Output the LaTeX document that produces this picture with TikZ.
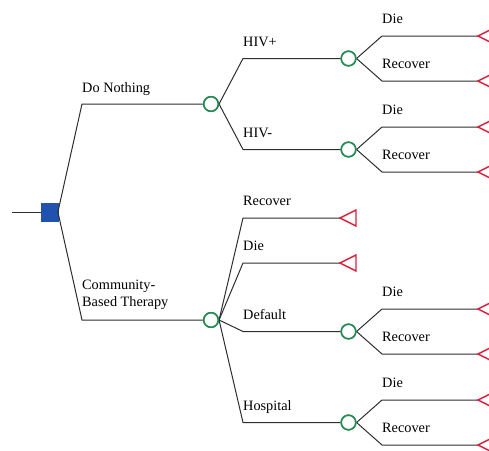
\documentclass[tikz,border=0pt]{standalone}
\usepackage{fontspec}
\setmainfont{Liberation Serif}
\definecolor{decblue}{HTML}{2152AE}
\definecolor{chgreen}{HTML}{268A52}
\definecolor{termred}{HTML}{D8213E}
\definecolor{lncol}{HTML}{2E2E2E}
\begin{document}
\begin{tikzpicture}[x=1pt,y=-1pt,
  ln/.style={draw=lncol,line width=1pt},
  decision/.style={rectangle,fill=decblue,draw=decblue,line width=0.3pt,minimum width=16.5pt,minimum height=17.5pt,inner sep=0pt},
  chance/.style={circle,draw=chgreen,fill=white,line width=1.6pt,minimum size=14.5pt,inner sep=0pt},
  term/.style={draw=termred,line width=1.4pt,line join=miter},
  lbl/.style={anchor=base west,inner sep=0pt,font=\fontsize{14.3}{17.6}\selectfont,text=black}]
\useasboundingbox (0,0) rectangle (489,450);
% nodes
\coordinate (root) at (12,212);
\node[decision] (d) at (49.5,212) {};
\node[chance] (dn) at (211,104) {};
\node[chance] (cb) at (211,320) {};
\node[chance] (hp) at (348.5,58.5) {};
\node[chance] (hm) at (348.5,149.5) {};
\node[chance] (df) at (348.5,331.5) {};
\node[chance] (hs) at (348.5,422.5) {};
% terminal tips
\coordinate (t1) at (478,36);
\coordinate (t2) at (478,81);
\coordinate (t3) at (478,127);
\coordinate (t4) at (478,172);
\coordinate (t5) at (340,218);
\coordinate (t6) at (340,263);
\coordinate (t7) at (478,309);
\coordinate (t8) at (478,354);
\coordinate (t9) at (478,400);
\coordinate (t10) at (478,445);
% connectors
\draw[ln] (root) -- (d.west);
\draw[ln] (d.east) -- (82,104) -- (dn.west);
\draw[ln] (d.east) -- (82,320) -- (cb.west);
\draw[ln] (dn.east) -- (243,58.5) -- (hp.west);
\draw[ln] (dn.east) -- (243,149.5) -- (hm.west);
\draw[ln] (cb.east) -- (243,218) -- (t5);
\draw[ln] (cb.east) -- (243,263) -- (t6);
\draw[ln] (cb.east) -- (243,331.5) -- (df.west);
\draw[ln] (cb.east) -- (243,422.5) -- (hs.west);
\draw[ln] (hp.east) -- (382,36) -- (t1);
\draw[ln] (hp.east) -- (382,81) -- (t2);
\draw[ln] (hm.east) -- (382,127) -- (t3);
\draw[ln] (hm.east) -- (382,172) -- (t4);
\draw[ln] (df.east) -- (382,309) -- (t7);
\draw[ln] (df.east) -- (382,354) -- (t8);
\draw[ln] (hs.east) -- (382,400) -- (t9);
\draw[ln] (hs.east) -- (382,445) -- (t10);
% redraw chance nodes on top
\foreach \n in {dn,cb,hp,hm,df,hs} \draw[chgreen,line width=1.6pt,fill=white] (\n) circle (7.25pt);
% terminal triangles
\foreach \t in {t1,t2,t3,t4,t5,t6,t7,t8,t9,t10}
  \draw[term] (\t) -- ++(16,-8) -- ++(0,16) -- cycle;
% labels
\node[lbl] (l1) at (82,92) {Do Nothing};
\node[lbl,align=left] (l2) at (82,306.7) {Community-\\Based Therapy};
\node[lbl] (l3) at (243,46) {HIV+};
\node[lbl] (l4) at (243,137) {HIV-};
\node[lbl] (l5) at (243,205.5) {Recover};
\node[lbl] (l6) at (243,250.5) {Die};
\node[lbl] (l7) at (243,319) {Default};
\node[lbl] (l8) at (243,410) {Hospital};
\node[lbl] (l9) at (382,23.5) {Die};
\node[lbl] (l10) at (382,68.5) {Recover};
\node[lbl] (l11) at (382,114.5) {Die};
\node[lbl] (l12) at (382,159.5) {Recover};
\node[lbl] (l13) at (382,296.5) {Die};
\node[lbl] (l14) at (382,341.5) {Recover};
\node[lbl] (l15) at (382,387.5) {Die};
\node[lbl] (l16) at (382,432.5) {Recover};
\end{tikzpicture}
\end{document}
